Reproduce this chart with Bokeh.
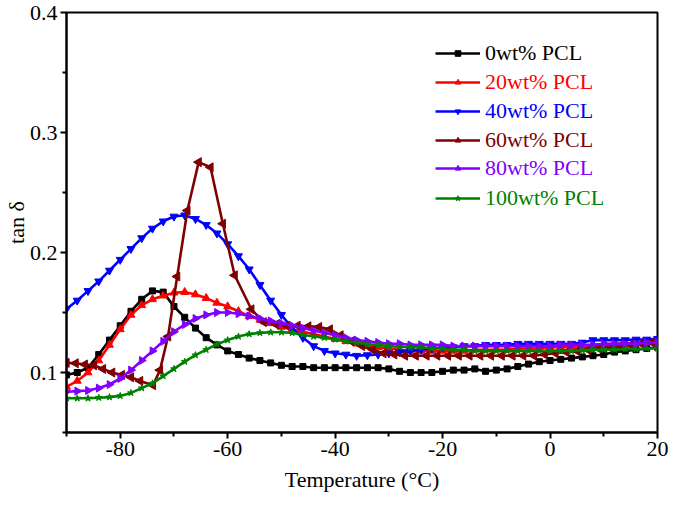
import math
from bokeh.plotting import figure
from bokeh.models import Range1d, FixedTicker, Legend, LegendItem
from bokeh.embed import file_html
from bokeh.resources import INLINE

temps = [-90, -88, -86, -84, -82, -80, -78, -76, -74, -72, -70,
         -68, -66, -64, -62, -60, -58, -56, -54, -52, -50,
         -48, -46, -44, -42, -40, -38, -36, -34, -32, -30,
         -28, -26, -24, -22, -20, -18, -16, -14, -12, -10,
         -8, -6, -4, -2, 0, 2, 4, 6, 8, 10,
         12, 14, 16, 18, 20]

pcl0 = [0.098, 0.100, 0.104, 0.115, 0.127, 0.139, 0.151, 0.161, 0.168, 0.167, 0.155,
        0.146, 0.137, 0.129, 0.123, 0.118, 0.115, 0.112, 0.110, 0.108, 0.106,
        0.105, 0.105, 0.104, 0.104, 0.104, 0.104, 0.104, 0.104, 0.104, 0.103,
        0.101, 0.100, 0.100, 0.100, 0.101, 0.102, 0.102, 0.103, 0.101, 0.102,
        0.103, 0.105, 0.107, 0.109, 0.110, 0.111, 0.112, 0.113, 0.114, 0.115,
        0.117, 0.118, 0.119, 0.120, 0.121]

pcl20 = [0.088, 0.093, 0.100, 0.110, 0.123, 0.136, 0.148, 0.156, 0.161, 0.164, 0.1665,
         0.167, 0.165, 0.162, 0.158, 0.155, 0.151, 0.147, 0.144, 0.141, 0.138,
         0.136, 0.134, 0.132, 0.130, 0.128, 0.126, 0.124, 0.122, 0.121, 0.120,
         0.119, 0.118, 0.118, 0.118, 0.118, 0.118, 0.118, 0.119, 0.119, 0.119,
         0.119, 0.120, 0.120, 0.120, 0.121, 0.121, 0.122, 0.122, 0.123, 0.123,
         0.124, 0.124, 0.125, 0.125, 0.126]

pcl40 = [0.153, 0.160, 0.168, 0.176, 0.185, 0.194, 0.203, 0.212, 0.220, 0.226, 0.230,
         0.231, 0.228, 0.223, 0.216, 0.207, 0.197, 0.186, 0.173, 0.160, 0.148,
         0.137, 0.129, 0.122, 0.118, 0.116, 0.115, 0.114, 0.1145, 0.115, 0.116,
         0.117, 0.118, 0.119, 0.120, 0.121, 0.121, 0.122, 0.122, 0.123, 0.123,
         0.123, 0.124, 0.124, 0.124, 0.124, 0.124, 0.124, 0.125, 0.127, 0.127,
         0.127, 0.127, 0.1275, 0.1275, 0.128]

temps60 = [-90, -88.3, -86.6, -84.9, -83.2, -81.5, -79.7, -78.0, -76.3, -73.9,
           -72.6, -71.1, -69.4, -67.5, -65.4, -63.2, -60.9, -58.7, -55.6, -53.3,
           -51, -49, -47, -45, -43, -41, -39, -37, -35, -33,
           -31, -29, -27, -25, -23, -21, -19, -17, -15, -13,
           -11, -9, -7, -5, -3, -1, 1, 3, 5, 7,
           9, 11, 13, 15, 17, 19]

pcl60 = [0.108, 0.1077, 0.1067, 0.106, 0.103, 0.100, 0.098, 0.096, 0.093, 0.0894,
         0.102, 0.130, 0.180, 0.235, 0.2753, 0.271, 0.224, 0.181, 0.1527, 0.142,
         0.140, 0.139, 0.139, 0.1385, 0.138, 0.136, 0.131, 0.126, 0.122, 0.119,
         0.116, 0.115, 0.114, 0.114, 0.114, 0.114, 0.114, 0.114, 0.114, 0.114,
         0.114, 0.114, 0.114, 0.114, 0.114, 0.115, 0.116, 0.117, 0.118, 0.119,
         0.120, 0.121, 0.122, 0.123, 0.124, 0.125]

pcl80 = [0.084, 0.0845, 0.085, 0.087, 0.090, 0.095, 0.102, 0.110, 0.118, 0.126, 0.134,
         0.140, 0.145, 0.148, 0.150, 0.150, 0.149, 0.147, 0.145, 0.143, 0.141,
         0.139, 0.137, 0.135, 0.133, 0.131, 0.129, 0.127, 0.126, 0.125, 0.124,
         0.124, 0.123, 0.123, 0.123, 0.123, 0.122, 0.122, 0.122, 0.122, 0.122,
         0.122, 0.122, 0.122, 0.122, 0.122, 0.123, 0.123, 0.123, 0.123, 0.124,
         0.124, 0.124, 0.124, 0.125, 0.125]

pcl100 = [0.0785, 0.0785, 0.0785, 0.079, 0.0795, 0.0805, 0.083, 0.087, 0.091, 0.097, 0.103,
          0.109, 0.1145, 0.119, 0.1235, 0.127, 0.130, 0.132, 0.133, 0.1335, 0.1335,
          0.133, 0.1315, 0.130, 0.129, 0.1275, 0.126, 0.125, 0.1235, 0.123, 0.122,
          0.1215, 0.121, 0.121, 0.120, 0.120, 0.119, 0.119, 0.118, 0.118, 0.118,
          0.118, 0.118, 0.118, 0.118, 0.118, 0.118, 0.118, 0.1185, 0.119, 0.119,
          0.119, 0.1195, 0.1195, 0.120, 0.120]

labels = ["0wt% PCL", "20wt% PCL", "40wt% PCL", "60wt% PCL", "80wt% PCL", "100wt% PCL"]
x_major = [-80, -60, -40, -20, 0, 20]
x_minor = [-90, -70, -50, -30, -10, 10]
y_major = [0.1, 0.2, 0.3, 0.4]
y_minor = [0.05, 0.15, 0.25, 0.35]

FONT = "Liberation Serif"

p = figure(frame_width=591, frame_height=420, output_backend="svg", toolbar_location=None,
           x_range=Range1d(-90, 20), y_range=Range1d(0.05, 0.4),
           min_border_left=66, min_border_right=12, min_border_top=12, min_border_bottom=57)
p.background_fill_color = "white"
p.border_fill_color = "white"
p.grid.visible = False
p.outline_line_color = "black"
p.outline_line_width = 2

p.xaxis.ticker = FixedTicker(ticks=x_major, minor_ticks=x_minor)
p.yaxis.ticker = FixedTicker(ticks=y_major, minor_ticks=y_minor)
p.xaxis.major_label_overrides = {t: str(t) for t in x_major}
p.xaxis.axis_label = "Temperature (°C)"
p.yaxis.axis_label = "tan δ"
for ax in (p.xaxis[0], p.yaxis[0]):
    ax.axis_line_width = 2
    ax.axis_line_color = "black"
    ax.major_tick_line_width = 2
    ax.minor_tick_line_width = 2
    ax.major_tick_in = 0
    ax.major_tick_out = 6
    ax.minor_tick_in = 0
    ax.minor_tick_out = 4
    ax.major_label_text_font = FONT
    ax.major_label_text_font_size = "22px"
    ax.major_label_text_color = "black"
    ax.axis_label_text_font = FONT
    ax.axis_label_text_font_size = "22px"
    ax.axis_label_text_font_style = "normal"
    ax.axis_label_text_color = "black"
p.xaxis.major_label_standoff = 3
p.xaxis.axis_label_standoff = 8
p.yaxis.major_label_standoff = 3
p.yaxis.axis_label_standoff = -2

series = [
    (temps, pcl0, "black", "square", 0.0, 6),
    (temps, pcl20, "#FF0000", "triangle", 0.0, 8),
    (temps, pcl40, "#0000FF", "inverted_triangle", 0.0, 8),
    (temps60, pcl60, "#800000", "triangle", math.pi / 2, 9),
    (temps, pcl80, "#8000FF", "triangle", -math.pi / 2, 8),
    (temps, pcl100, "#008000", "star", 0.0, 7),
]

# legend row centres, measured from the top of the frame (screen px)
row_offsets = [41, 70, 99, 128, 156, 186]
for (xs, ys, col, mk, ang, sz), lab, dy in zip(series, labels, row_offsets):
    rl = p.line(xs, ys, line_color=col, line_width=2.6)
    rs = p.scatter(xs, ys, marker=mk, angle=ang, size=sz, fill_color=col, line_color=col)
    leg = Legend(items=[LegendItem(label=lab, renderers=[rl, rs])],
                 location=(369, 420 - dy - 13),
                 label_text_font=FONT, label_text_font_size="22px",
                 label_text_color=col, glyph_width=45, glyph_height=14,
                 label_height=26, label_standoff=5, padding=0, margin=0,
                 spacing=0, border_line_color=None, background_fill_alpha=0)
    p.add_layout(leg)

open("out.html", "w").write(file_html(p, INLINE))
